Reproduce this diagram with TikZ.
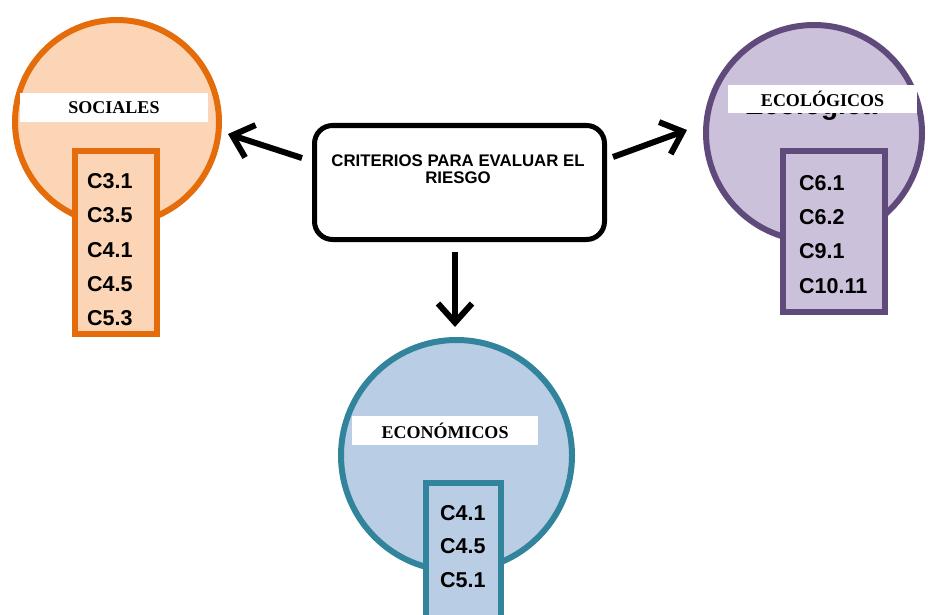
\documentclass[tikz,border=0pt]{standalone}
\usepackage{fontspec}
\setmainfont{Liberation Sans}
\newfontfamily\tmsfont{Liberation Serif}
\usetikzlibrary{arrows.meta}
\definecolor{orS}{HTML}{E46C0A}
\definecolor{orF}{HTML}{FBD5B5}
\definecolor{puS}{HTML}{604A7B}
\definecolor{puF}{HTML}{CCC1DA}
\definecolor{teS}{HTML}{31849B}
\definecolor{teF}{HTML}{B9CDE5}
\tikzset{
  circ/.style={circle, line width=6pt, inner sep=0pt},
  listbox/.style={rectangle, line width=6pt, inner sep=0pt},
  lbl/.style={rectangle, fill=white, inner sep=0pt, font=\tmsfont\bfseries\fontsize{18}{20}\selectfont},
  item/.style={anchor=base west, inner sep=0pt, font=\bfseries\fontsize{21.5}{24}\selectfont},
  ctxt/.style={anchor=base, inner sep=0pt, font=\bfseries\fontsize{16.8}{18}\selectfont},
  arr/.style={line width=6pt, -{Straight Barb[length=19pt,width=34pt]}},
}
\begin{document}
\begin{tikzpicture}[x=1pt,y=-1pt]
\useasboundingbox (0,0) rectangle (928,615);
\clip (0,0) rectangle (928,615);
\fill[white] (0,0) rectangle (928,615);

% SOCIALES
\node (socC) [circ, draw=orS, fill=orF, minimum size=204pt] at (117,122) {};
\node (socL) [lbl, minimum width=188pt, minimum height=29pt] at (114,107.5) {SOCIALES};
\node (socR) [listbox, draw=orS, fill=orF, minimum width=82pt, minimum height=183pt] at (116,242.5) {};
\node (s1) [item] at (87,188) {C3.1};
\node (s2) [item] at (87,222) {C3.5};
\node (s3) [item] at (87,257.5) {C4.1};
\node (s4) [item] at (87,291.5) {C4.5};
\node (s5) [item] at (87,325.5) {C5.3};

% ECOLOGICOS
\node (ecoC) [circ, draw=puS, fill=puF, minimum size=216pt] at (814,133) {};
\node (ecoG) [anchor=base, inner sep=0pt, font=\bfseries\fontsize{28}{30}\selectfont] at (811,114.5) {Ecológica};
\node (ecoL) [lbl, minimum width=189pt, minimum height=28pt] at (822.5,99) {ECOLÓGICOS};
\node (ecoR) [listbox, draw=puS, fill=puF, minimum width=102pt, minimum height=161pt] at (834,231.5) {};
\node (e1) [item] at (799,190) {C6.1};
\node (e2) [item] at (799,224) {C6.2};
\node (e3) [item] at (799,258.5) {C9.1};
\node (e4) [item] at (799,293) {C10.11};

% ECONOMICOS
\node (ecnC) [circ, draw=teS, fill=teF, minimum size=231pt] at (456.5,455.5) {};
\node (ecnL) [lbl, minimum width=186pt, minimum height=29pt] at (445,430.5) {ECONÓMICOS};
\node (ecnR) [listbox, draw=teS, fill=teF, minimum width=75pt, minimum height=157pt] at (463.5,561.5) {};
\node (n1) [item] at (440,520) {C4.1};
\node (n2) [item] at (440,553.5) {C4.5};
\node (n3) [item] at (440,587) {C5.1};

% CENTRAL BOX
\node (box) [rectangle, rounded corners=18pt, draw=black, line width=5pt, fill=white, minimum width=290pt, minimum height=114pt, inner sep=0pt] at (459.5,182.5) {};
\node (t1) [ctxt] at (458,166) {CRITERIOS PARA EVALUAR EL};
\node (t2) [ctxt] at (458,183) {RIESGO};

% ARROWS
\coordinate (aLs) at (302,158);
\coordinate (aLe) at (228,134);
\coordinate (aRs) at (613,157);
\coordinate (aRe) at (687,130);
\coordinate (aDs) at (455,252);
\coordinate (aDe) at (455,327);
\draw[arr] (aLs) -- (aLe);
\draw[arr] (aRs) -- (aRe);
\draw[arr] (aDs) -- (aDe);
\end{tikzpicture}
\end{document}
